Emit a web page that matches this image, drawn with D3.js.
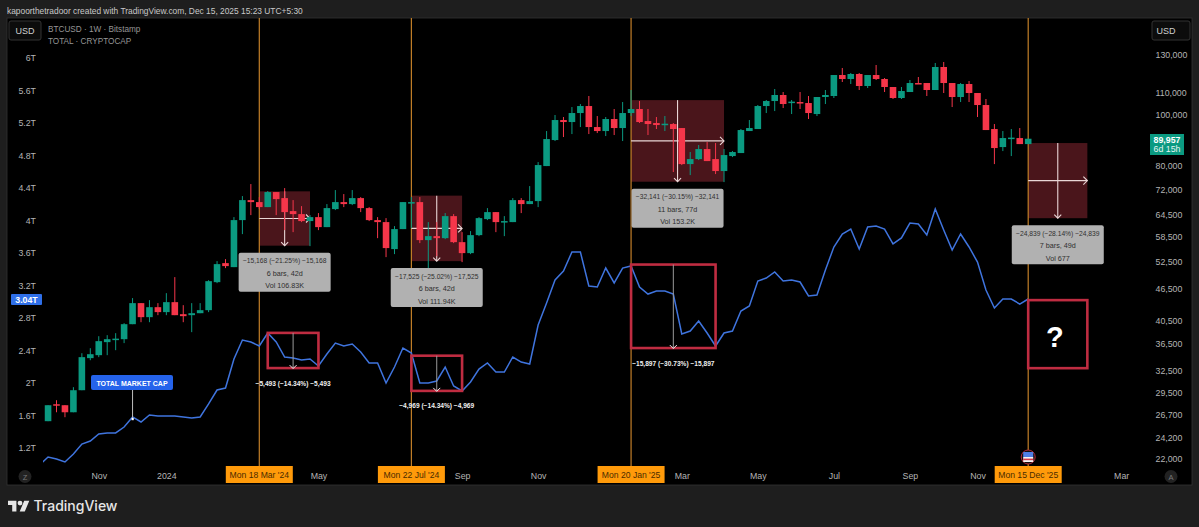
<!DOCTYPE html>
<html>
<head>
<meta charset="utf-8">
<script src="https://cdn.jsdelivr.net/npm/d3@7"></script>
<style>
  html, body { margin: 0; background: #1e1e1e; overflow: hidden; }
  svg { display: block; }
  text { font-family: "Liberation Sans", sans-serif; }
</style>
</head>
<body>
<svg width="1199" height="527"></svg>
<script>
// weekly BTCUSD candles, bar 0 is Mon 18 Mar '24
const firstBar = -25;
const opens = [25980,27990,27870,27020,29770,34280,34730,36780,37200,37260,39800,43660,41050,42890,41970,43850,41590,41410,41770,42330,47880,52060,51150,62900,68680,
  68080,66600,71150,69290,65440,64580,62630,63730,60990,66020,68080,67490,69290,66310,62900,62350,55370,60460,67790,68080,57600,58620,58100,64010,57090,54400,58880,63180,65150,62400,62350,68680,67490,68380,79770,89440,97670,96810,100720,103870,94700,93050,98100,94290,100720,
  102510,97240,96390,95800,95960,94290,80470,82260,85970,82260,78040,83360,84470,93050,93880,103870,106180,109030,105500,105710,105250,100280,108070,108550,119050,116970,119580,113430,119050,116970,112930,107600,110470,114930,114930,111450,123320,114930,108070,114430,109990,104330,93880,86720,90000,90230,87870];
const highs = [27870,28490,27870,30170,35030,35810,37750,37920,38260,39980,44640,43660,44240,43660,45620,48950,43270,43660,43660,48300,52520,52980,63730,69910,73700,
  69600,71470,71150,72410,68680,66890,64300,64870,67490,71780,70530,71780,69600,66600,63730,63450,61260,68080,69600,69600,62350,62350,64870,64580,59660,59930,63730,66310,65150,64010,69290,69290,73050,81180,93050,99840,98970,103410,104790,108550,99400,98970,102510,105710,111450,
  106180,102510,98970,99400,96390,94290,84850,87490,88660,88270,85970,85210,93880,97670,104330,106650,111940,110470,106650,110470,108550,108070,111450,119050,122780,120110,120110,119050,124400,117490,112930,112930,116460,118010,114930,125510,126060,114930,114930,115950,109990,107130,95960,93050,93880,94290,89957];
const lows = [25980,27020,26440,27020,29770,33970,34430,34730,35500,36620,39800,40150,40150,41410,41410,41410,40150,38430,41770,41970,47670,50930,51150,59140,64300,
  66020,66600,64300,60190,59660,62350,56100,60190,60990,65730,66600,67190,65150,62630,58100,53450,54160,60460,60720,56850,50040,53680,57850,56850,52290,54160,58620,62900,59660,58620,62350,64870,67490,66600,79770,89050,90630,91830,94700,91830,92230,91030,91430,89050,99400,
  96390,91430,93880,93050,77700,80120,76670,81900,81540,77010,74340,82990,84470,93050,93880,100720,101600,102960,100280,102510,98100,99400,104790,107600,115440,114430,111450,112430,116460,110470,107130,107130,110470,114430,108550,111450,109990,103410,105710,105710,98970,93460,80470,85210,83360,87870,87870];
const closes = [27870,27870,27020,29770,34430,34880,36940,37260,37350,39800,43660,41050,42890,41970,43850,41410,41230,41770,42330,48090,51830,51380,62900,68680,68080,
  66600,71150,68980,65150,64580,62630,63730,60990,66310,68080,67490,69290,66310,62900,62350,55620,60460,68080,68080,57600,58620,58100,64010,57090,54400,58880,63450,65150,62350,62630,68680,67490,68380,80120,89830,97670,96810,100720,103870,94700,93050,98100,94290,100720,102510,
  96810,95960,95540,96100,93880,80470,82260,85970,81540,78040,83730,84850,93460,94290,103870,106180,109030,104790,105900,105250,100720,108070,109030,119050,116970,119580,113430,119050,116970,112930,107600,110960,114930,114430,111450,123320,114930,108070,114430,109990,104330,93460,86350,90230,90400,87870,89957];

// TOTAL market cap in trillions, one value a week, starts one bar before the candles
const totalCap = [0.99,1.089,1.065,1.028,1.126,1.249,1.286,1.372,1.385,1.385,1.458,1.582,1.52,1.606,1.594,1.594,1.594,1.582,1.569,1.582,1.742,1.914,1.938,2.295,2.529,2.505,
  2.455,2.615,2.505,2.32,2.308,2.283,2.295,2.209,2.357,2.492,2.455,2.48,2.382,2.246,2.246,2.0,2.197,2.431,2.369,2.0,2.0,2.025,2.197,1.963,1.902,2.012,2.172,2.246,2.135,2.135,2.32,2.258,2.234,2.714,2.985,3.268,3.378,3.612,3.612,3.194,3.182,3.415,3.231,3.415,
  3.44,3.182,3.095,3.132,3.132,3.095,2.603,2.64,2.763,2.615,2.455,2.615,2.64,2.886,2.948,3.255,3.292,3.366,3.255,3.268,3.243,3.071,3.083,3.391,3.674,3.834,3.895,3.649,3.92,3.932,3.895,3.711,3.785,3.969,3.957,3.822,4.142,3.883,3.637,3.834,3.674,3.489,3.145,2.923,3.034,3.034,2.972,3.034];

const capTicks = [1.2,1.6,2,2.4,2.8,3.2,3.6,4,4.4,4.8,5.2,5.6,6];
const priceTicks = [22000,24200,26700,29500,32500,36500,40500,46500,52500,58500,64500,72000,80000,100000,110000,130000];
const timeTicks = [-19,-11,7,24,33,50,59,68,77,85,102];
const timeLabels = ['Nov','2024','May','Sep','Nov','Mar','May','Jul','Sep','Nov','Mar'];

const markerBars = [0,18,44,91];
const markerLabels = ["Mon 18 Mar '24","Mon 22 Jul '24","Mon 20 Jan '25","Mon 15 Dec '25"];

// price range measures drawn on the candles
const measureFrom = [0,18,44,91];
const measureTo = [6,24,55,98];
const measureTop = [71380,70044,106604,88269];
const measureBottom = [56212,52519,74463,63430];
const measureDelta = ['−15,168 (−21.25%) −15,168','−17,525 (−25.02%) −17,525','−32,141 (−30.15%) −32,141','−24,839 (−28.14%) −24,839'];
const measureBars = ['6 bars, 42d','6 bars, 42d','11 bars, 77d','7 bars, 49d'];
const measureVol = ['Vol 106.83K','Vol 111.94K','Vol 153.2K','Vol 677'];

// red frames around the market cap drops, on the same price scale
const frameFrom = [1,18,44,91];
const frameTo = [7,24,54,98];
const frameTop = [38306,34651,51731,44240];
const frameBottom = [32813,29682,35834,32800];
const frameDelta = ['−5,493 (−14.34%) −5,493','−4,969 (−14.34%) −4,969','−15,897 (−30.73%) −15,897',''];

const svg = d3.select('svg');
const barCount = opens.length;
const bars = d3.range(barCount).map(i => ({
  bar: firstBar + i, open: opens[i], high: highs[i], low: lows[i], close: closes[i]
}));

const x = d3.scaleLinear().domain([0, 91]).range([259.3, 1028.2]);
const yPrice = d3.scaleLog().domain([22000, 130000]).range([459, 55]);
const yCap = d3.scaleLinear().domain([1.2, 6]).range([448, 58]);

const upColor = '#0b9a81';
const downColor = '#f5364a';
const axisColor = '#b4b4b4';
const paneTop = 18, paneBottom = 485, paneLeft = 7, paneRight = 1192;

svg.append('text').attr('x', 7).attr('y', 13.5)
  .attr('fill', '#c9c9c9').style('font-size', '8.4px')
  .text('kapoorthetradoor created with TradingView.com, Dec 15, 2025 15:23 UTC+5:30');

svg.append('rect').attr('x', paneLeft).attr('y', paneTop)
  .attr('width', paneRight - paneLeft).attr('height', paneBottom - paneTop)
  .attr('fill', '#000').attr('stroke', '#333').attr('stroke-width', 0.8);

svg.append('defs').append('clipPath').attr('id', 'lineClip')
  .append('rect').attr('x', 43).attr('y', paneTop).attr('width', 1100).attr('height', paneBottom - paneTop);

// measure boxes sit under everything
svg.append('g').selectAll('rect').data(measureFrom).enter().append('rect')
  .attr('x', (d, i) => x(d))
  .attr('y', (d, i) => yPrice(measureTop[i]))
  .attr('width', (d, i) => x(measureTo[i]) - x(d))
  .attr('height', (d, i) => yPrice(measureBottom[i]) - yPrice(measureTop[i]))
  .attr('fill', '#4a151b');

// orange date lines
svg.append('g').selectAll('line').data(markerBars).enter().append('line')
  .attr('x1', d => x(d)).attr('x2', d => x(d))
  .attr('y1', paneTop).attr('y2', 466)
  .attr('stroke', '#c27f28').attr('stroke-width', 1.2);

// measure arrows
const arrows = svg.append('g').attr('fill', 'none').attr('stroke', '#e9d6d6').attr('stroke-width', 1.1);
measureFrom.forEach((d, i) => {
  const left = x(d), right = x(measureTo[i]), mid = (left + right) / 2;
  const top = yPrice(measureTop[i]), bottom = yPrice(measureBottom[i]), center = (top + bottom) / 2;
  arrows.append('path').attr('d', d3.line()([[left, center], [right, center]]));
  arrows.append('path').attr('d', d3.line()([[mid, top], [mid, bottom]]));
  arrows.append('path').attr('d', d3.line()([[right - 4, center - 4], [right, center], [right - 4, center + 4]]));
  arrows.append('path').attr('d', d3.line()([[mid - 3.5, bottom - 3.5], [mid, bottom], [mid + 3.5, bottom - 3.5]]));
});

// candles
const candles = svg.append('g').selectAll('g').data(bars).enter().append('g')
  .attr('fill', d => d.close >= d.open ? upColor : downColor)
  .attr('stroke', d => d.close >= d.open ? upColor : downColor);
candles.append('line')
  .attr('x1', d => x(d.bar)).attr('x2', d => x(d.bar))
  .attr('y1', d => yPrice(d.high)).attr('y2', d => yPrice(d.low))
  .attr('stroke-width', 1);
candles.append('rect')
  .attr('x', d => x(d.bar) - 3.3)
  .attr('width', 6.6)
  .attr('y', d => yPrice(Math.max(d.open, d.close)))
  .attr('height', d => Math.max(1.5, Math.abs(yPrice(d.open) - yPrice(d.close))))
  .attr('stroke', 'none');

// grey measure labels
const labels = svg.append('g').selectAll('g').data(measureFrom).enter().append('g')
  .attr('transform', (d, i) => `translate(${(x(d) + x(measureTo[i])) / 2},${yPrice(measureBottom[i]) + 7})`);
labels.append('rect').attr('x', -46).attr('y', 0).attr('width', 92).attr('height', 39)
  .attr('rx', 2).attr('fill', '#b1b1b1');
[measureDelta, measureBars, measureVol].forEach((rows, row) => {
  labels.append('text').attr('x', 0).attr('y', 10.5 + row * 12.5)
    .attr('text-anchor', 'middle').attr('fill', '#2f2f2f').style('font-size', row === 0 ? '6.7px' : '7.2px')
    .text((d, i) => rows[i]);
});

// market cap line
svg.append('path')
  .attr('d', d3.line().x((d, i) => x(firstBar - 1 + i)).y(d => yCap(d))(totalCap))
  .attr('clip-path', 'url(#lineClip)')
  .attr('fill', 'none').attr('stroke', '#3f74de').attr('stroke-width', 1.5);

// red frames with the drop arrow
const frames = svg.append('g');
frameFrom.forEach((d, i) => {
  const left = x(d), right = x(frameTo[i]);
  const top = yPrice(frameTop[i]), bottom = yPrice(frameBottom[i]), mid = (left + right) / 2;
  frames.append('rect').attr('x', left).attr('y', top)
    .attr('width', right - left).attr('height', bottom - top)
    .attr('fill', 'none').attr('stroke', '#bf2c41').attr('stroke-width', 2.6);
  if (frameDelta[i] === '') return;
  frames.append('line').attr('x1', mid).attr('x2', mid).attr('y1', top).attr('y2', bottom)
    .attr('stroke', '#9a9a9a').attr('stroke-width', 1);
  frames.append('path').attr('d', d3.line()([[mid - 3.5, bottom - 3], [mid, bottom + 0.5], [mid + 3.5, bottom - 3]]))
    .attr('fill', 'none').attr('stroke', '#eee').attr('stroke-width', 1);
  frames.append('text').attr('x', mid).attr('y', bottom + 17.5)
    .attr('text-anchor', 'middle').attr('fill', '#f0f0f0')
    .style('font-size', '6.6px').style('font-weight', 'bold').text(frameDelta[i]);
});
svg.append('text').attr('x', (x(91) + x(98)) / 2 - 3).attr('y', 347)
  .attr('text-anchor', 'middle').attr('fill', '#fff')
  .style('font-size', '29px').style('font-weight', 'bold').text('?');

// pill on the market cap line
svg.append('line').attr('x1', x(-15)).attr('x2', x(-15)).attr('y1', 390).attr('y2', 418)
  .attr('stroke', '#bdbdbd').attr('stroke-width', 1);
svg.append('rect').attr('x', x(-15) - 1).attr('y', 418).attr('width', 2.2).attr('height', 2.2).attr('fill', '#fff');
svg.append('rect').attr('x', 91).attr('y', 375).attr('width', 82).attr('height', 15).attr('rx', 2).attr('fill', '#2563eb');
svg.append('text').attr('x', 132).attr('y', 385.5).attr('text-anchor', 'middle').attr('fill', '#fff')
  .style('font-size', '7px').style('font-weight', 'bold').text('TOTAL MARKET CAP');

// axes
const capAxis = svg.append('g').attr('transform', 'translate(36,0)')
  .call(d3.axisLeft(yCap).tickValues(capTicks).tickSize(0).tickPadding(0).tickFormat(d => d + 'T'));
const priceAxis = svg.append('g').attr('transform', 'translate(1155.5,0)')
  .call(d3.axisRight(yPrice).tickValues(priceTicks).tickSize(0).tickPadding(0).tickFormat(d3.format(',')));
const timeAxis = svg.append('g').attr('transform', 'translate(0,476)')
  .call(d3.axisBottom(x).tickValues(timeTicks).tickSize(0).tickPadding(0).tickFormat((d, i) => timeLabels[i]));
timeAxis.selectAll('text').attr('y', 0).attr('dy', '0.34em');
[capAxis, priceAxis, timeAxis].forEach(a => {
  a.select('.domain').remove();
  a.selectAll('text').attr('fill', axisColor).style('font-size', '8.8px')
    .style('font-family', '"Liberation Sans", sans-serif');
});

// orange date labels on the time axis
const markerTags = svg.append('g').selectAll('g').data(markerBars).enter().append('g')
  .attr('transform', d => `translate(${x(d)},466)`);
markerTags.append('rect').attr('x', -33.5).attr('y', 0).attr('width', 67).attr('height', 17).attr('fill', '#ff9a0a');
markerTags.append('text').attr('y', 12).attr('text-anchor', 'middle').attr('fill', '#4a2c00')
  .style('font-size', '8.6px').text((d, i) => markerLabels[i]);

// left badge and last price badge
svg.append('rect').attr('x', 11).attr('y', 294).attr('width', 31).attr('height', 11).attr('rx', 1).attr('fill', '#2f6fe8');
svg.append('text').attr('x', 26.5).attr('y', 303).attr('text-anchor', 'middle').attr('fill', '#fff')
  .style('font-size', '8.8px').style('font-weight', 'bold').text(d3.format('.2f')(totalCap[totalCap.length - 1] + 0.006) + 'T');
svg.append('rect').attr('x', 1150).attr('y', 134).attr('width', 34).attr('height', 21).attr('fill', '#0b9a81');
svg.append('text').attr('x', 1167).attr('y', 142.5).attr('text-anchor', 'middle').attr('fill', '#fff')
  .style('font-size', '8.8px').style('font-weight', 'bold').text(d3.format(',')(closes[barCount - 1]));
svg.append('text').attr('x', 1167).attr('y', 152).attr('text-anchor', 'middle').attr('fill', '#e6f5f1')
  .style('font-size', '8.8px').text('6d 15h');

// currency buttons
[[9, 32], [1152, 38]].forEach(b => {
  svg.append('rect').attr('x', b[0]).attr('y', 21).attr('width', b[1]).attr('height', 19).attr('rx', 2)
    .attr('fill', '#0c0c0c').attr('stroke', '#333');
  svg.append('text').attr('x', b[0] + b[1] / 2 - (b[1] > 32 ? 5 : 0)).attr('y', 34).attr('text-anchor', 'middle')
    .attr('fill', '#d0d0d0').style('font-size', '9px').text('USD');
});

// legend
svg.append('text').attr('x', 48).attr('y', 32).attr('fill', '#969696').style('font-size', '8.2px').text('BTCUSD · 1W · Bitstamp');
svg.append('text').attr('x', 48).attr('y', 43.5).attr('fill', '#969696').style('font-size', '8.2px').text('TOTAL · CRYPTOCAP');

// Z and A buttons
[[25, 'Z'], [1171, 'A']].forEach(b => {
  svg.append('circle').attr('cx', b[0]).attr('cy', 476.5).attr('r', 6.5).attr('fill', '#222');
  svg.append('text').attr('x', b[0]).attr('y', 479.5).attr('text-anchor', 'middle').attr('fill', '#777')
    .style('font-size', '7.5px').text(b[1]);
});

// US flag marker on the last date line
const flag = svg.append('g').attr('transform', `translate(${x(91)},457)`);
flag.append('circle').attr('r', 7).attr('fill', '#111').attr('stroke', '#b32a3a').attr('stroke-width', 1);
flag.append('rect').attr('x', -5).attr('y', -5).attr('width', 10).attr('height', 5).attr('fill', '#4f7fe6');
flag.append('rect').attr('x', -5).attr('y', 0).attr('width', 10).attr('height', 5).attr('fill', '#f4f4f4');
flag.append('rect').attr('x', -5).attr('y', 1.6).attr('width', 10).attr('height', 1.6).attr('fill', '#d8384a');

// footer logo
const logo = svg.append('g').attr('transform', 'translate(8,496.5) scale(0.6)').attr('fill', '#e6e6e6');
logo.append('path').attr('d', 'M14 25H7V14H0V7h14v18zM28 25h-8.5l7.5-18h8.5L28 25z');
logo.append('circle').attr('cx', 20).attr('cy', 11).attr('r', 4);
svg.append('text').attr('x', 33.5).attr('y', 511).attr('fill', '#e6e6e6')
  .style('font-family', 'Inter, sans-serif').style('font-size', '14px').style('font-weight', 500).text('TradingView');
</script>
</body>
</html>
